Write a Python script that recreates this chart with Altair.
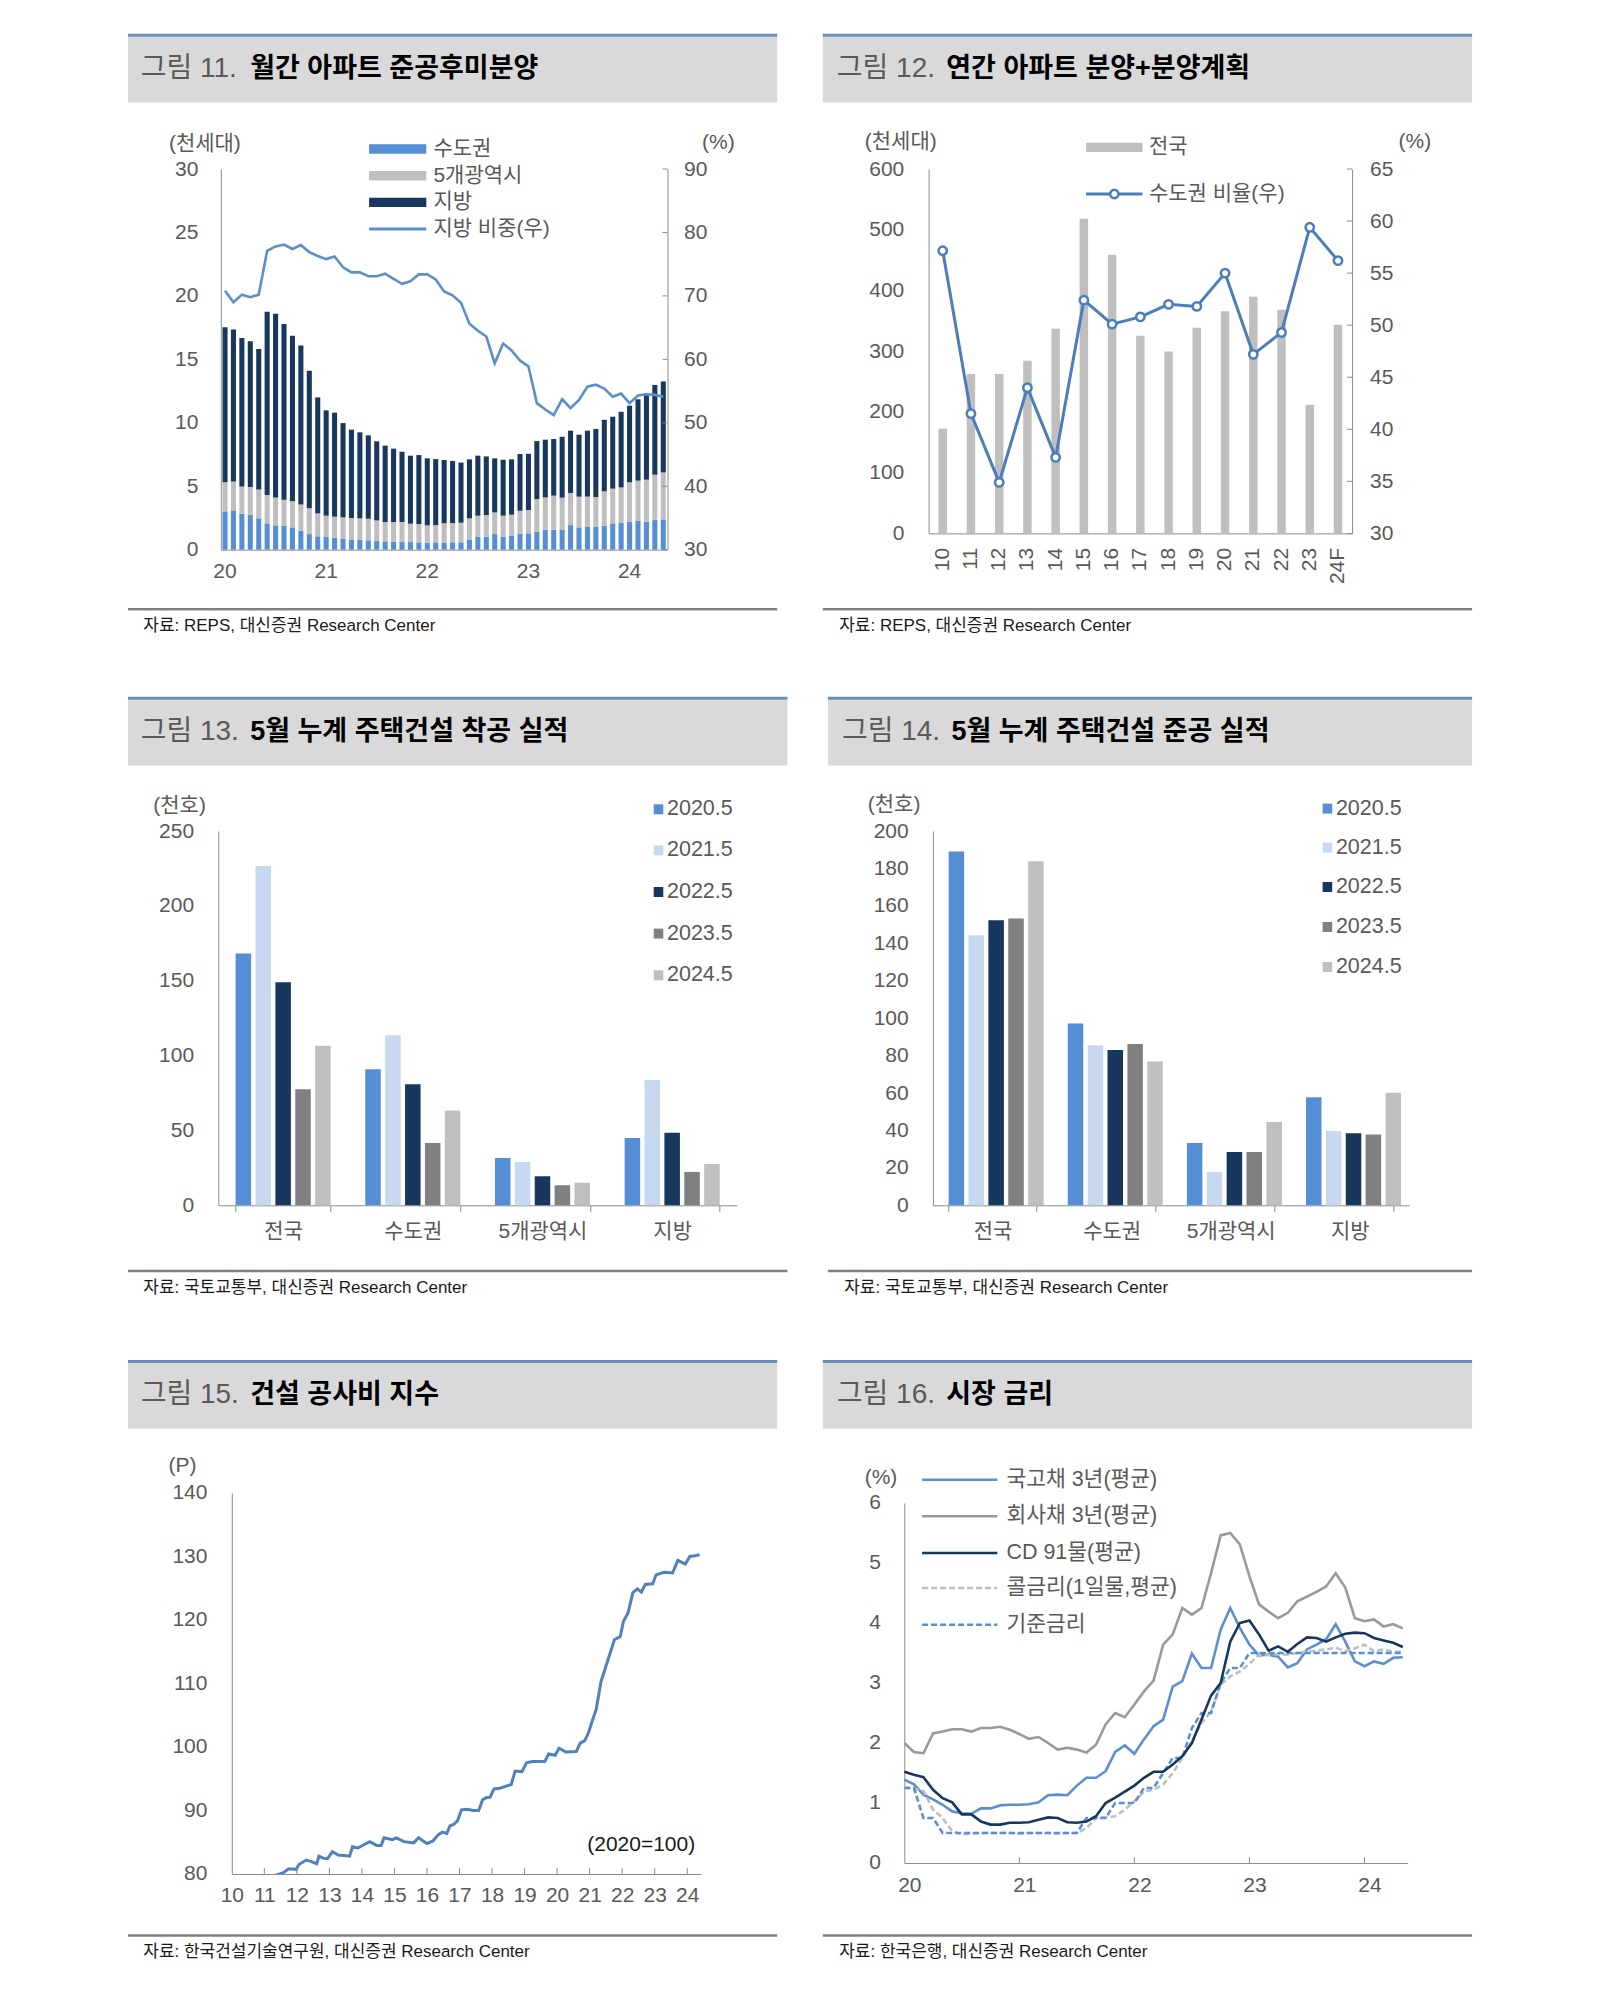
import json
import altair as alt
import pandas as pd

FONT = "Liberation Sans, Noto Sans CJK KR, sans-serif"
TXT = "#595959"
AX = "#8C8C8C"
HEAD_FILL = "#D9D9D9"
HEAD_LINE = "#6A8CBB"
SRC_LINE = "#7F7F7F"
ONE = alt.Data(values=[{"k": 0}])

# ---------------- Fig 11 data ----------------
months11 = [f"{y}-{m:02d}" for y in range(2020, 2025) for m in range(1, 13)][:53]
jan11 = ["2020-01", "2021-01", "2022-01", "2023-01", "2024-01"]
labels11 = ["20", "21", "22", "23", "24"]
regions11 = ["수도권", "5개광역시", "지방"]
colors11 = ["#558ED5", "#BFBFBF", "#17375E"]
capital11 = [3.02, 3.1, 2.84, 2.76, 2.47, 2.08, 1.92, 1.89, 1.76, 1.5,
             1.23, 1.05, 1.0, 0.95, 0.87, 0.81, 0.79, 0.74, 0.68, 0.66,
             0.63, 0.6, 0.6, 0.58, 0.55, 0.58, 0.53, 0.58, 0.58, 0.79,
             1.02, 1.02, 1.23, 1.02, 1.08, 1.26, 1.29, 1.42, 1.58, 1.58,
             1.6, 1.94, 1.76, 1.79, 1.81, 1.89, 2.08, 2.13, 2.21, 2.26,
             2.21, 2.36, 2.39]
metro11 = [2.29, 2.28, 2.15, 2.18, 2.28, 2.23, 2.2, 2.05, 2.05, 2.07,
           2.03, 1.81, 1.68, 1.65, 1.68, 1.69, 1.68, 1.7, 1.63, 1.52,
           1.55, 1.58, 1.45, 1.44, 1.37, 1.36, 1.55, 1.52, 1.55, 1.68,
           1.66, 1.71, 1.71, 1.66, 1.68, 1.81, 1.84, 2.57, 2.54, 2.68,
           2.5, 2.53, 2.42, 2.39, 2.34, 2.71, 2.73, 2.78, 3.1, 3.18,
           3.31, 3.55, 3.7]
local11 = [12.21, 11.98, 11.69, 11.48, 11.06, 14.44, 14.48, 13.84, 13.05, 12.53,
           10.84, 9.14, 8.3, 8.2, 7.43, 6.96, 6.78, 6.57, 6.23, 6.02,
           5.78, 5.54, 5.36, 5.44, 5.28, 5.2, 4.99, 4.89, 4.73, 4.65,
           4.73, 4.62, 4.26, 4.41, 4.36, 4.47, 4.43, 4.57, 4.55, 4.46,
           4.8, 4.91, 4.88, 5.2, 5.36, 5.64, 5.67, 5.96, 6.04, 6.41,
           6.8, 7.07, 7.17]
share11 = [70.8, 69.0, 70.2, 69.8, 70.2, 77.1, 77.8, 78.1, 77.4, 78.0,
           76.9, 76.3, 75.8, 76.2, 74.5, 73.7, 73.7, 73.1, 73.1, 73.5,
           72.7, 71.9, 72.3, 73.4, 73.4, 72.6, 70.7, 70.1, 68.9, 65.6,
           64.5, 63.6, 59.4, 62.5, 61.4, 59.8, 58.9, 53.1, 52.1, 51.2,
           53.7, 52.3, 53.6, 55.7, 56.0, 55.4, 54.1, 54.6, 53.1, 54.3,
           54.5, 54.4, 54.1]
left11 = [0, 5, 10, 15, 20, 25, 30]
right11 = [30, 40, 50, 60, 70, 80, 90]

# ---------------- Fig 12 data ----------------
years12 = ["10", "11", "12", "13", "14", "15", "16", "17", "18", "19", "20", "21", "22", "23", "24F"]
supply12 = [172.9, 262.4, 262.4, 284.4, 337.0, 518.0, 459.0, 325.5, 299.7, 338.7, 365.6, 389.7, 368.3, 211.9, 343.6]
ratio12 = [57.15, 41.5, 34.9, 44.0, 37.3, 52.4, 50.1, 50.8, 52.0, 51.8, 55.0, 47.2, 49.3, 59.4, 56.2]
left12 = [0, 100, 200, 300, 400, 500, 600]
right12 = [30, 35, 40, 45, 50, 55, 60, 65]

# ---------------- Fig 13 / 14 data ----------------
groups = ["전국", "수도권", "5개광역시", "지방"]
series = ["2020.5", "2021.5", "2022.5", "2023.5", "2024.5"]
colors_s = ["#558ED5", "#C6D9F1", "#17375E", "#808080", "#BFBFBF"]
start13 = {
    "2020.5": [168.1, 90.8, 31.6, 45.0],
    "2021.5": [226.6, 113.5, 28.9, 83.7],
    "2022.5": [148.9, 80.8, 19.4, 48.5],
    "2023.5": [77.5, 41.6, 13.4, 22.3],
    "2024.5": [106.6, 63.4, 15.1, 27.6],
}
comp14 = {
    "2020.5": [189.1, 97.1, 33.3, 57.7],
    "2021.5": [144.3, 85.5, 17.8, 39.7],
    "2022.5": [152.3, 83.0, 28.5, 38.5],
    "2023.5": [153.3, 86.2, 28.5, 37.8],
    "2024.5": [183.8, 76.9, 44.5, 60.2],
}
ticks13 = [0, 50, 100, 150, 200, 250]
ticks14 = [0, 20, 40, 60, 80, 100, 120, 140, 160, 180, 200]

# ---------------- Fig 15 data ----------------
years15 = [2011.35, 2011.59, 2011.74, 2011.88, 2011.98, 2012.06, 2012.29, 2012.47, 2012.61, 2012.68,
           2012.8, 2012.94, 2013.09, 2013.27, 2013.45, 2013.62, 2013.71, 2013.88, 2014.06, 2014.24,
           2014.45, 2014.59, 2014.68, 2014.94, 2015.06, 2015.29, 2015.59, 2015.74, 2015.88, 2016.0,
           2016.18, 2016.35, 2016.47, 2016.61, 2016.71, 2016.82, 2016.94, 2017.06, 2017.24, 2017.41,
           2017.59, 2017.71, 2017.82, 2017.94, 2018.06, 2018.24, 2018.41, 2018.59, 2018.71, 2018.92,
           2019.06, 2019.24, 2019.47, 2019.62, 2019.74, 2019.94, 2020.06, 2020.27, 2020.59, 2020.71,
           2020.85, 2020.96, 2021.08, 2021.2, 2021.35, 2021.53, 2021.76, 2021.94, 2022.04, 2022.18,
           2022.33, 2022.47, 2022.59, 2022.71, 2022.94, 2023.04, 2023.29, 2023.55, 2023.71, 2023.94,
           2024.08, 2024.24, 2024.38]
index15 = [79.8, 80.2, 80.8, 80.8, 80.7, 81.5, 82.2, 81.9, 81.6, 82.8,
           82.5, 82.4, 83.5, 83.0, 82.9, 82.8, 84.3, 84.1, 84.6, 85.1,
           84.5, 84.5, 85.7, 85.4, 85.7, 85.1, 84.9, 85.7, 85.2, 84.8,
           85.2, 86.2, 86.6, 86.4, 87.6, 87.8, 88.4, 90.1, 90.2, 90.0,
           90.0, 91.7, 92.0, 92.1, 93.4, 93.5, 93.8, 94.1, 96.2, 96.1,
           97.5, 97.7, 97.7, 97.7, 98.9, 98.7, 99.8, 99.2, 99.3, 100.6,
           101.0, 102.2, 104.1, 105.9, 110.3, 113.2, 116.9, 117.4, 119.8, 121.1,
           124.3, 124.9, 124.4, 125.6, 125.7, 127.1, 127.5, 127.4, 129.4, 128.8,
           130.0, 130.1, 130.3]
xticks15 = list(range(2010, 2025))
labels15 = ["10", "11", "12", "13", "14", "15", "16", "17", "18", "19", "20", "21", "22", "23", "24"]
yticks15 = [80, 90, 100, 110, 120, 130, 140]

# ---------------- Fig 16 data ----------------
names16 = ["국고채 3년(평균)", "회사채 3년(평균)", "CD 91물(평균)", "콜금리(1일물,평균)", "기준금리"]
gov16 = [1.39, 1.31, 1.14, 1.06, 0.97, 0.86, 0.83, 0.82, 0.91, 0.91,
         0.96, 0.97, 0.97, 0.98, 1.01, 1.13, 1.14, 1.13, 1.29, 1.42,
         1.42, 1.53, 1.85, 1.96, 1.82, 2.06, 2.28, 2.39, 2.94, 3.03,
         3.49, 3.25, 3.25, 3.89, 4.25, 3.92, 3.64, 3.46, 3.47, 3.44,
         3.26, 3.33, 3.56, 3.64, 3.73, 3.98, 3.69, 3.36, 3.28, 3.36,
         3.32, 3.42, 3.43]
corp16 = [2.0, 1.85, 1.83, 2.16, 2.19, 2.23, 2.23, 2.19, 2.25, 2.25,
          2.27, 2.22, 2.15, 2.07, 2.1, 2.0, 1.89, 1.92, 1.89, 1.84,
          1.97, 2.31, 2.5, 2.43, 2.64, 2.86, 3.04, 3.64, 3.81, 4.25,
          4.14, 4.25, 4.83, 5.46, 5.5, 5.31, 4.78, 4.31, 4.19, 4.08,
          4.17, 4.36, 4.44, 4.52, 4.61, 4.83, 4.59, 4.08, 4.03, 4.06,
          3.94, 3.98, 3.91]
cd16 = [1.52, 1.47, 1.43, 1.22, 1.08, 1.01, 0.81, 0.81, 0.69, 0.64,
        0.64, 0.67, 0.67, 0.68, 0.72, 0.76, 0.75, 0.68, 0.67, 0.69,
        0.78, 1.0, 1.09, 1.19, 1.29, 1.42, 1.52, 1.52, 1.64, 1.78,
        2.0, 2.39, 2.79, 3.0, 3.69, 4.0, 4.04, 3.81, 3.54, 3.61,
        3.52, 3.65, 3.76, 3.75, 3.69, 3.76, 3.82, 3.84, 3.83, 3.75,
        3.71, 3.67, 3.6]
call16 = [1.26, 1.24, 1.2, 0.89, 0.75, 0.53, 0.48, 0.49, 0.5, 0.5,
          0.5, 0.5, 0.49, 0.5, 0.5, 0.5, 0.49, 0.5, 0.5, 0.58,
          0.75, 0.76, 0.78, 0.89, 1.03, 1.19, 1.22, 1.31, 1.5, 1.75,
          2.03, 2.33, 2.53, 2.97, 3.11, 3.19, 3.32, 3.47, 3.47, 3.48,
          3.47, 3.5, 3.52, 3.54, 3.56, 3.59, 3.53, 3.58, 3.64, 3.53,
          3.56, 3.52, 3.52]
base16 = [1.25, 1.25, 0.75, 0.75, 0.5, 0.5, 0.5, 0.5, 0.5, 0.5,
          0.5, 0.5, 0.5, 0.5, 0.5, 0.5, 0.5, 0.5, 0.5, 0.75,
          0.75, 0.75, 1.0, 1.0, 1.0, 1.25, 1.25, 1.5, 1.75, 1.75,
          2.25, 2.5, 2.5, 3.0, 3.25, 3.25, 3.5, 3.5, 3.5, 3.5,
          3.5, 3.5, 3.5, 3.5, 3.5, 3.5, 3.5, 3.5, 3.5, 3.5,
          3.5, 3.5, 3.5]
xticks16 = [0, 12, 24, 36, 48]
labels16 = ["20", "21", "22", "23", "24"]
yticks16 = [0, 1, 2, 3, 4, 5, 6]

SRC_REPS = "자료: REPS, 대신증권 Research Center"
SRC_MOLIT = "자료: 국토교통부, 대신증권 Research Center"
SRC_KICT = "자료: 한국건설기술연구원, 대신증권 Research Center"
SRC_BOK = "자료: 한국은행, 대신증권 Research Center"

KSIZE = 21      # Korean label size
TSIZE = 27      # header title size


# ---------------- helpers ----------------
def T(x, y, s, size=KSIZE, color=TXT, weight="normal", align="left", baseline="middle"):
    return alt.Chart(ONE).mark_text(text=s, font=FONT, fontSize=size, color=color,
                                    fontWeight=weight, align=align, baseline=baseline).encode(
        x=alt.value(x), y=alt.value(y))


def R(x1, x2, y1, y2, color, opacity=1.0):
    return alt.Chart(ONE).mark_rect(color=color, opacity=opacity).encode(
        x=alt.value(x1), x2=alt.value(x2), y=alt.value(y1), y2=alt.value(y2))


def Lr(x1, x2, y, color, width=2.5, dash=None):
    kw = dict(color=color, strokeWidth=width)
    if dash:
        kw["strokeDash"] = dash
    return alt.Chart(ONE).mark_rule(**kw).encode(x=alt.value(x1), x2=alt.value(x2), y=alt.value(y))


def deco(P, H):
    X = lambda v: v - P["ox"]
    Y = lambda v: v - P["oy"]
    top = H["top"]
    return [
        R(X(H["cx1"]), X(H["cx2"]), Y(top), Y(H["bottom"]), "#FFFFFF", 0),
        R(X(H["x1"]), X(H["x2"]), Y(top + 3), Y(top + 68.8), HEAD_FILL),
        R(X(H["x1"]), X(H["x2"]), Y(top), Y(top + 3), HEAD_LINE),
        T(X(H["nx"]), Y(top + 35), H["num"], 28, "#5A5A5A"),
        T(X(H["tx"]), Y(top + 35), H["title"], TSIZE, "#000000", "bold"),
        R(X(H["x1"]), X(H["x2"]), Y(H["sline"] - 1.25), Y(H["sline"] + 1.25), SRC_LINE),
        T(X(H["sx"]), Y(H["sy"]), H["src"], 17, "#1A1A1A"),
    ]


def pt(P, x, y, s, **kw):
    return T(x - P["ox"], y - P["oy"], s, **kw)


def pr(P, x1, x2, y1, y2, color):
    return R(x1 - P["ox"], x2 - P["ox"], y1 - P["oy"], y2 - P["oy"], color)


def pl(P, x1, x2, y, color, width=2.5, dash=None):
    return Lr(x1 - P["ox"], x2 - P["ox"], y - P["oy"], color, width, dash)


def geom(P):
    """plot offsets inside the panel group and total group size"""
    dx = P["px"] - P["ox"]
    dy = P["py"] - P["oy"]
    return dx, dy, dx + P["pw"], dy + P["ph"]


# ---------------- layout (page pixels) ----------------
COL_X = [217.6, 905.1]     # common group origins per column
ROW_Y = [168.3, 831.7, 1495.0]
CELL_X = [(127.3, 821.0), (823.6, 1472.9)]
ROW_BOTTOM = [694.5, 1359.0, 1970.0]

P11 = dict(ox=COL_X[0], oy=ROW_Y[0], px=220.1, py=168.3, pw=446.7, ph=380.7)
H11 = dict(x1=127.3, x2=776.5, cx1=CELL_X[0][0], cx2=CELL_X[0][1], top=33, bottom=ROW_BOTTOM[0],
           num="그림 11.", title="월간 아파트 준공후미분양",
           nx=140, tx=249.5, sline=608.5, sx=142.6, sy=625, src=SRC_REPS)
P12 = dict(ox=COL_X[1], oy=ROW_Y[0], px=929.4, py=168.3, pw=423.5, ph=364.4)
H12 = dict(x1=823.6, x2=1472.9, cx1=CELL_X[1][0], cx2=CELL_X[1][1], top=33, bottom=ROW_BOTTOM[0],
           num="그림 12.", title="연간 아파트 분양+분양계획",
           nx=837.6, tx=947.1, sline=608.5, sx=840, sy=625, src=SRC_REPS)
P13 = dict(ox=COL_X[0], oy=ROW_Y[1], px=217.6, py=831.7, pw=518.7, ph=374.3)
H13 = dict(x1=127.3, x2=786.7, cx1=CELL_X[0][0], cx2=CELL_X[0][1], top=697.5, bottom=ROW_BOTTOM[1],
           num="그림 13.", title="5월 누계 주택건설 착공 실적",
           nx=140, tx=249.5, sline=1271.7, sx=142.6, sy=1288.3, src=SRC_MOLIT)
P14 = dict(ox=COL_X[1], oy=ROW_Y[1], px=933.7, py=831.7, pw=476.5, ph=374.3)
H14 = dict(x1=828.7, x2=1472.9, cx1=CELL_X[1][0], cx2=CELL_X[1][1], top=697.5, bottom=ROW_BOTTOM[1],
           num="그림 14.", title="5월 누계 주택건설 준공 실적",
           nx=842.7, tx=952.2, sline=1271.7, sx=845, sy=1288.3, src=SRC_MOLIT)
P15 = dict(ox=COL_X[0], oy=ROW_Y[2], px=231.1, py=1495, pw=469.1, ph=381)
H15 = dict(x1=127.3, x2=776.5, cx1=CELL_X[0][0], cx2=CELL_X[0][1], top=1362, bottom=ROW_BOTTOM[2],
           num="그림 15.", title="건설 공사비 지수",
           nx=140, tx=249.5, sline=1937.5, sx=142.6, sy=1954, src=SRC_KICT)
P16 = dict(ox=COL_X[1], oy=ROW_Y[2], px=905.1, py=1505, pw=503.3, ph=360)
H16 = dict(x1=823.6, x2=1472.9, cx1=CELL_X[1][0], cx2=CELL_X[1][1], top=1362, bottom=ROW_BOTTOM[2],
           num="그림 16.", title="시장 금리",
           nx=837.6, tx=947.1, sline=1937.5, sx=840, sy=1954, src=SRC_BOK)

# ---------------- Panel 11 ----------------
dx, dy, W, Hh = geom(P11)
rows = []
for i, m in enumerate(months11):
    for k, (reg, arr) in enumerate(zip(regions11, [capital11, metro11, local11])):
        rows.append({"m": m, "region": reg, "ord": k, "v": arr[i]})
df11 = pd.DataFrame(rows)
df11l = pd.DataFrame({"m": months11, "s": share11})

x11 = alt.X("m:O", sort=months11, scale=alt.Scale(paddingInner=0.4, paddingOuter=0.2, range=[dx, W]),
            axis=alt.Axis(title=None, values=jan11, labelAngle=0, ticks=False, labelPadding=11,
                          labelExpr=f"{json.dumps(labels11)}[indexof({json.dumps(jan11)}, datum.value)]"))
bars11 = alt.Chart(df11).mark_bar().encode(
    x=x11,
    y=alt.Y("v:Q", stack="zero", scale=alt.Scale(domain=[0, 30], nice=False, range=[Hh, dy]),
            axis=alt.Axis(title=None, orient="left", values=left11, ticks=False, labelPadding=23, offset=-dx)),
    color=alt.Color("region:N", scale=alt.Scale(domain=regions11, range=colors11), legend=None),
    order=alt.Order("ord:Q", sort="ascending"),
)
line11 = alt.Chart(df11l).mark_line(color="#5B8FC9", strokeWidth=2.6).encode(
    x=x11,
    y=alt.Y("s:Q", scale=alt.Scale(domain=[30, 90], nice=False, range=[Hh, dy]),
            axis=alt.Axis(title=None, orient="right", values=right11, ticks=False, labelPadding=16)),
)
rt11 = alt.Chart(pd.DataFrame({"t": right11})).mark_rule(color=AX, strokeWidth=1).encode(
    y=alt.Y("t:Q", scale=alt.Scale(domain=[30, 90], nice=False, range=[Hh, dy]), axis=None),
    x=alt.value(W - 5), x2=alt.value(W))
leg11 = []
for k, (reg, col) in enumerate(zip(regions11, colors11)):
    yy = [148.3, 175.0, 201.7][k]
    leg11.append(pr(P11, 368.4, 425.6, yy - 4.7, yy + 4.7, col))
    leg11.append(pt(P11, 432.7, yy, reg))
leg11.append(pl(P11, 368.4, 425.6, 228.3, "#5B8FC9", 3))
leg11.append(pt(P11, 432.7, 228.3, "지방 비중(우)"))
units11 = [pt(P11, 168.2, 143.3, "(천세대)"), pt(P11, 701.4, 142.5, "(%)")]
p11 = alt.layer(*deco(P11, H11), bars11, line11, rt11, *leg11, *units11).resolve_scale(
    y="independent").properties(width=W, height=Hh)

# ---------------- Panel 12 ----------------
dx, dy, W, Hh = geom(P12)
df12 = pd.DataFrame({"yr": years12, "v": supply12, "r": ratio12})
x12 = alt.X("yr:O", sort=years12, scale=alt.Scale(paddingInner=0.7, paddingOuter=0.35, range=[dx, W]),
            axis=alt.Axis(title=None, labelAngle=270, ticks=False, labelPadding=14))
bars12 = alt.Chart(df12).mark_bar(color="#BFBFBF").encode(
    x=x12,
    y=alt.Y("v:Q", scale=alt.Scale(domain=[0, 600], nice=False, range=[Hh, dy]),
            axis=alt.Axis(title=None, orient="left", values=left12, ticks=False, labelPadding=24.8,
                          offset=-dx)))
BLUE12 = "#4A7EBB"
line12 = alt.Chart(df12).mark_line(color=BLUE12, strokeWidth=3,
                                   point=alt.OverlayMarkDef(filled=True, fill="white", stroke=BLUE12,
                                                            strokeWidth=2.5, size=70, opacity=1)).encode(
    x=x12,
    y=alt.Y("r:Q", scale=alt.Scale(domain=[30, 65], nice=False, range=[Hh, dy]),
            axis=alt.Axis(title=None, orient="right", values=right12, ticks=False, labelPadding=17.4)))
rt12 = alt.Chart(pd.DataFrame({"t": right12})).mark_rule(color=AX, strokeWidth=1).encode(
    y=alt.Y("t:Q", scale=alt.Scale(domain=[30, 65], nice=False, range=[Hh, dy]), axis=None),
    x=alt.value(W - 5), x2=alt.value(W))
leg12 = [
    pr(P12, 1086.9, 1143.3, 146.7 - 4.7, 146.7 + 4.7, "#BFBFBF"),
    pt(P12, 1149.8, 146.7, "전국"),
    pl(P12, 1086.9, 1143.3, 193.3, BLUE12, 3),
    alt.Chart(ONE).mark_point(shape="circle", filled=True, fill="white", stroke=BLUE12, strokeWidth=2.5,
                              size=70, opacity=1).encode(x=alt.value(1115.1 - P12["ox"]),
                                                         y=alt.value(193.3 - P12["oy"])),
    pt(P12, 1149.8, 193.3, "수도권 비율(우)"),
]
units12 = [pt(P12, 865.6, 141.7, "(천세대)"), pt(P12, 1399.4, 141.7, "(%)")]
p12 = alt.layer(*deco(P12, H12), bars12, line12, rt12, *leg12, *units12).resolve_scale(
    y="independent").properties(width=W, height=Hh)


# ---------------- Panel 13 / 14 ----------------
def grouped(P, H, data, yticks, ymax, pin, pin_off, leg_x, leg_rows, unit_xy):
    dx, dy, W, Hh = geom(P)
    rows = []
    for s in series:
        for g, v in zip(groups, data[s]):
            rows.append({"g": g, "s": s, "v": v})
    df = pd.DataFrame(rows)
    bars = alt.Chart(df).mark_bar().encode(
        x=alt.X("g:N", sort=groups, scale=alt.Scale(paddingInner=pin, paddingOuter=pin / 2, range=[dx, W]),
                axis=alt.Axis(title=None, labelAngle=0, ticks=True, tickBand="extent", tickSize=6,
                              labelPadding=9, labelFontSize=KSIZE)),
        xOffset=alt.XOffset("s:N", sort=series, scale=alt.Scale(paddingInner=pin_off, paddingOuter=0)),
        y=alt.Y("v:Q", scale=alt.Scale(domain=[0, ymax], nice=False, range=[Hh, dy]),
                axis=alt.Axis(title=None, values=yticks, ticks=False, labelPadding=24.7, offset=-dx)),
        color=alt.Color("s:N", sort=series, scale=alt.Scale(domain=series, range=colors_s), legend=None),
    )
    leg = []
    for s, c, yy in zip(series, colors_s, leg_rows):
        leg.append(pr(P, leg_x, leg_x + 9.6, yy - 5, yy + 5, c))
        leg.append(pt(P, leg_x + 13.3, yy, s, size=21.5))
    units = [pt(P, unit_xy[0], unit_xy[1], "(천호)")]
    return alt.layer(*deco(P, H), bars, *leg, *units).properties(width=W, height=Hh)


p13 = grouped(P13, H13, start13, ticks13, 250, 0.267, 0.22, 653.0,
              [810.0, 851.0, 892.7, 934.3, 976.0], (152.6, 806.7))
p14 = grouped(P14, H14, comp14, ticks14, 200, 0.264, 0.213, 1323.4,
              [809.3, 848.3, 887.7, 927.7, 967.7], (868.6, 806.0))

# ---------------- Panel 15 ----------------
dx, dy, W, Hh = geom(P15)
df15 = pd.DataFrame({"t": years15, "v": index15})
x15 = alt.X("t:Q", scale=alt.Scale(domain=[2010, 2024.42], nice=False, zero=False, range=[dx, W]),
            axis=alt.Axis(title=None, values=xticks15, ticks=False, labelFlush=False, labelOverlap=False,
                          labelPadding=11, labelExpr=f"{json.dumps(labels15)}[datum.value - 2010]"))
line15 = alt.Chart(df15).mark_line(color="#4F81BD", strokeWidth=3, clip=True).encode(
    x=x15,
    y=alt.Y("v:Q", scale=alt.Scale(domain=[80, 140], nice=False, zero=False, range=[Hh, dy]),
            axis=alt.Axis(title=None, values=yticks15, ticks=False, labelPadding=24.9, offset=-dx)))
xt15 = alt.Chart(pd.DataFrame({"t": xticks15[1:]})).mark_rule(color=AX, strokeWidth=1).encode(
    x=x15, y=alt.value(Hh - 6), y2=alt.value(Hh))
extra15 = [pt(P15, 167.9, 1468, "(P)"),
           pt(P15, 694.5, 1846.7, "(2020=100)", size=21, color="#1A1A1A", align="right")]
p15 = alt.layer(*deco(P15, H15), line15, xt15, *extra15).properties(width=W, height=Hh)

# ---------------- Panel 16 ----------------
dx, dy, W, Hh = geom(P16)
styles16 = [("#5B8FD0", None), ("#999999", None), ("#17375E", None), ("#BFBFBF", [6, 3]), ("#5B8FD0", [6, 3])]
vals16 = [gov16, corp16, cd16, call16, base16]
x16 = alt.X("i:Q", scale=alt.Scale(domain=[0, 52.5], nice=False, zero=False, range=[dx, W]),
            axis=alt.Axis(title=None, values=xticks16, ticks=False, labelFlush=False, labelOverlap=False,
                          labelPadding=12, labelOffset=5,
                          labelExpr=f"{json.dumps(labels16)}[datum.value / 12]"))
y16 = alt.Y("v:Q", scale=alt.Scale(domain=[0, 6], nice=False, range=[Hh, dy]),
            axis=alt.Axis(title=None, values=yticks16, ticks=False, labelPadding=23.8, offset=-dx))
lines16 = []
for idx in [1, 0, 3, 4, 2]:
    col, dash = styles16[idx]
    kw = dict(color=col, strokeWidth=2.6)
    if dash:
        kw["strokeDash"] = dash
    d = pd.DataFrame({"i": list(range(len(vals16[idx]))), "v": vals16[idx]})
    lines16.append(alt.Chart(d).mark_line(**kw).encode(x=x16, y=y16))
xt16 = alt.Chart(pd.DataFrame({"i": xticks16[1:]})).mark_rule(color=AX, strokeWidth=1).encode(
    x=x16, y=alt.value(Hh - 6), y2=alt.value(Hh))
leg16 = []
for (col, dash), name, yy in zip(styles16, names16, [1481.7, 1518.3, 1555.0, 1590.0, 1626.7]):
    leg16.append(pl(P16, 922.9, 998.1, yy, col, 2.6, dash))
    leg16.append(pt(P16, 1007.2, yy, name, size=21.5))
units16 = [pt(P16, 865.5, 1480, "(%)")]
p16 = alt.layer(*deco(P16, H16), *lines16, xt16, *leg16, *units16).properties(width=W, height=Hh)

# ---------------- assemble ----------------
chart = alt.concat(p11, p12, p13, p14, p15, p16, columns=2, spacing=0, align="none").resolve_scale(
    color="independent"
).properties(
    padding={"left": 119.3, "top": 25, "right": 20, "bottom": 10}
).configure_view(stroke="transparent").configure_axis(
    labelFont=FONT, labelFontSize=21, labelColor=TXT, domainColor=AX, tickColor=AX, grid=False,
    labelOverlap=False
)

chart.save("out.html", embed_options={"renderer": "svg", "actions": False})
